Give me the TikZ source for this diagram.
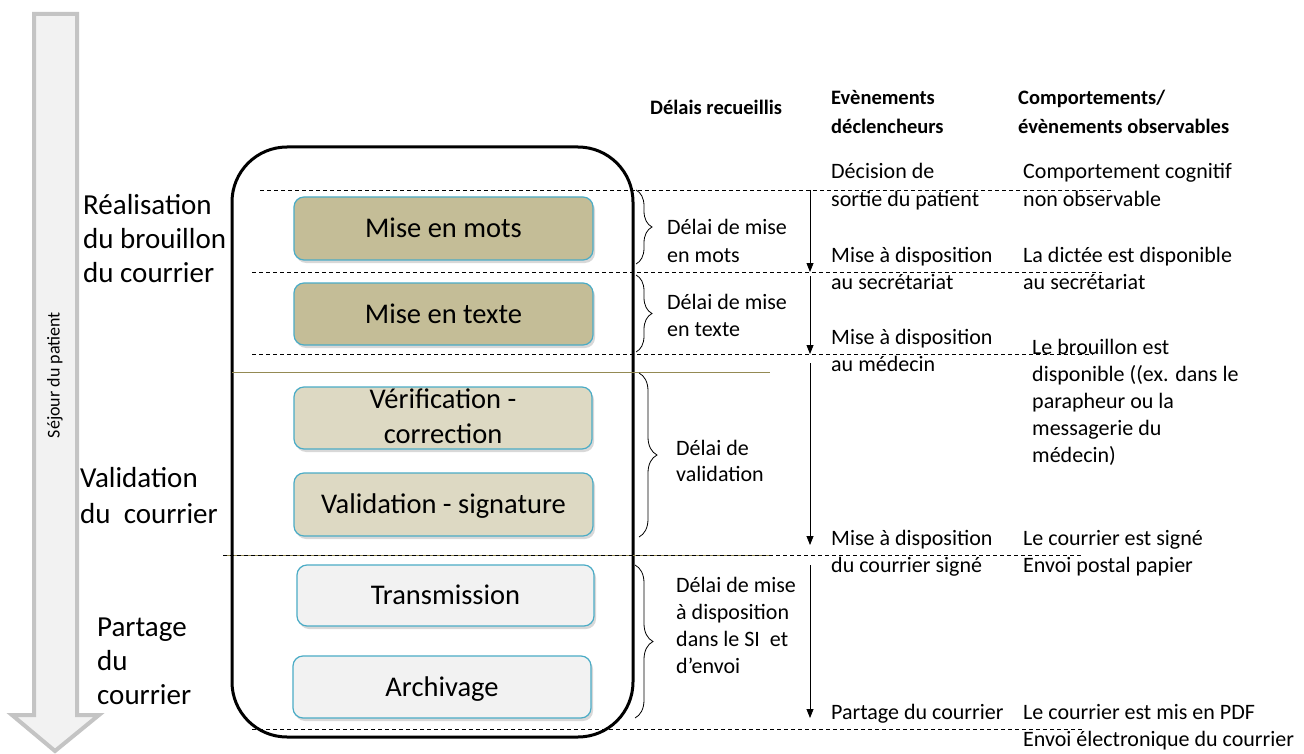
\documentclass[tikz,border=0pt]{standalone}
\usepackage{fontspec}
\setmainfont{Carlito}
\usetikzlibrary{arrows.meta,decorations.pathreplacing,shadows}
\definecolor{khaki}{HTML}{C4BD97}
\definecolor{lkhaki}{HTML}{DDD9C3}
\definecolor{lgray}{HTML}{F2F2F2}
\definecolor{boxblue}{HTML}{4BACC6}
\definecolor{olive}{HTML}{948A54}
\definecolor{arrgray}{HTML}{C4C4C4}
\newcommand\myfs[2]{\fontsize{#1}{#2}\selectfont}
\begin{document}
\begin{tikzpicture}[x=1pt,y=-1pt,
  phase/.style={font=\myfs{29}{34}, align=left, anchor=base west, inner sep=0pt},
  hdr/.style={font=\bfseries\myfs{20.5}{29}, align=left, anchor=base west, inner sep=0pt},
  txt/.style={font=\myfs{22}{27.5}, align=left, anchor=base west, inner sep=0pt},
  taskbox/.style={draw=boxblue, line width=1.2pt, rounded corners=10pt,
    minimum width=299pt, minimum height=63pt, font=\myfs{28.5}{35},
    text height=18.5pt, text depth=0pt, inner sep=0pt,
    drop shadow={shadow xshift=2pt, shadow yshift=-3pt, opacity=.3}},
  sep/.style={dash pattern=on 4pt off 3pt, line width=0.8pt},
  oliveline/.style={draw=olive, line width=1pt},
  timearrow/.style={line width=0.8pt, -{Triangle[width=7pt,length=9pt]}},
  delaybrace/.style={decorate, decoration={brace, amplitude=#1}, line width=0.8pt},
  delaybrace/.default=16pt
]
\useasboundingbox (0,0) rectangle (1304,754);
\fill[white] (0,0) rectangle (1304,754);

% big timeline arrow
\draw[fill=lgray, draw=arrgray, line width=4pt, line join=miter]
  (34,14) -- (77,14) -- (77,715) -- (99,715) -- (55,751) -- (12,715) -- (34,715) -- cycle;
\node[rotate=90, font=\myfs{18}{20}, inner sep=0pt] (sejour) at (55,375) {Séjour du patient};

% phase labels (base = last line baseline)
\node[phase] (ph1) at (83,282) {Réalisation\\du brouillon\\du courrier};
\node[phase, font=\myfs{29}{36}] (ph2) at (80,523) {Validation\\du\ \ courrier};
\node[phase] (ph3) at (97,704) {Partage\\du\\courrier};

% big frame
\draw[line width=3pt, rounded corners=55pt] (232,147) rectangle (633,737);

% olive phase separators
\coordinate (o1a) at (232,372); \coordinate (o1b) at (770,372);
\coordinate (o2a) at (223,555); \coordinate (o2b) at (770,555);
\draw[oliveline] (o1a) -- (o1b);
\draw[oliveline] (o2a) -- (o2b);

% dashed separators
\coordinate (d1a) at (260,190); \coordinate (d1b) at (1112,190);
\coordinate (d2a) at (252,272); \coordinate (d2b) at (1102,272);
\coordinate (d3a) at (252,354); \coordinate (d3b) at (1093,354);
\coordinate (d4a) at (223,555); \coordinate (d4b) at (1083,555);
\coordinate (d5a) at (252,729); \coordinate (d5b) at (1083,729);
\draw[sep] (d1a) -- (d1b);
\draw[sep] (d2a) -- (d2b);
\draw[sep] (d3a) -- (d3b);
\draw[sep] (d4a) -- (d4b);
\draw[sep] (d5a) -- (d5b);

% task boxes
\node[taskbox, fill=khaki] (mots) at (443.5,228.5) {Mise en mots};
\node[taskbox, fill=khaki, minimum height=62pt] (texte) at (443.5,314) {Mise en texte};
\node[taskbox, fill=lkhaki, minimum width=298pt, minimum height=62pt] (verif) at (443,418) {};
\node[font=\myfs{28.5}{35}, align=center, inner sep=0pt] (veriftxt) at (443,416) {Vérification -\\correction};
\node[taskbox, fill=lkhaki] (valsig) at (443.5,504.5) {Validation - signature};
\node[taskbox, fill=lgray, minimum width=297pt, minimum height=61pt] (trans) at (445.5,595.5) {Transmission};
\node[taskbox, fill=lgray, minimum width=298pt, minimum height=62pt] (arch) at (442,687) {Archivage};

% braces
\coordinate (b1a) at (636,190); \coordinate (b1b) at (636,264);
\coordinate (b2a) at (636,275); \coordinate (b2b) at (636,352);
\coordinate (b3a) at (639,373); \coordinate (b3b) at (639,537);
\coordinate (b4a) at (635,565); \coordinate (b4b) at (635,718);
\draw[delaybrace] (b1a) -- (b1b);
\draw[delaybrace] (b2a) -- (b2b);
\draw[delaybrace=18pt] (b3a) -- (b3b);
\draw[delaybrace=18pt] (b4a) -- (b4b);

% delay labels
\node[txt, font=\myfs{22}{28}] (l1) at (667,262) {Délai de mise\\en mots};
\node[txt, font=\myfs{22}{27}] (l2) at (667,336) {Délai de mise\\en texte};
\node[txt, font=\myfs{22}{26}] (l3) at (676,481) {Délai de\\validation};
\node[txt, font=\myfs{22}{27}] (l4) at (676,673) {Délai de mise\\à disposition\\dans le SI\ \ et\\d’envoi};

% time arrows
\coordinate (a1a) at (810,190); \coordinate (a1b) at (810,272);
\coordinate (a2a) at (810,276); \coordinate (a2b) at (810,354);
\coordinate (a3a) at (810,363); \coordinate (a3b) at (810,545);
\coordinate (a4a) at (810,565); \coordinate (a4b) at (810,718);
\draw[timearrow] (a1a) -- (a1b);
\draw[timearrow] (a2a) -- (a2b);
\draw[timearrow] (a3a) -- (a3b);
\draw[timearrow] (a4a) -- (a4b);

% headers
\node[hdr] (h1) at (650,115) {Délais recueillis};
\node[hdr] (h2) at (831,134) {Evènements\\déclencheurs};
\node[hdr] (h3) at (1018,134) {Comportements/\\évènements observables};

% triggering events
\node[txt] (e1) at (831,206.5) {Décision de\\sortie du patient};
\node[txt] (e2) at (831,289.5) {Mise à disposition\\au secrétariat};
\node[txt] (e3) at (831,371.5) {Mise à disposition\\au médecin};
\node[txt] (e4) at (831,572.5) {Mise à disposition\\du courrier signé};
\node[txt] (e5) at (831,719) {Partage du courrier};

% observable behaviours
\node[txt] (c1) at (1023,206.5) {Comportement cognitif\\non observable};
\node[txt] (c2) at (1023,289.5) {La dictée est disponible\\au secrétariat};
\node[txt, font=\myfs{22}{27}] (c3) at (1032,462) {Le brouillon est\\disponible ((ex. dans le\\parapheur ou la\\messagerie du\\médecin)};
\node[txt] (c4) at (1023,572.5) {Le courrier est signé\\Envoi postal papier};
\node[txt] (c5) at (1023,746.5) {Le courrier est mis en PDF\\Envoi électronique du courrier};
\end{tikzpicture}
\end{document}
